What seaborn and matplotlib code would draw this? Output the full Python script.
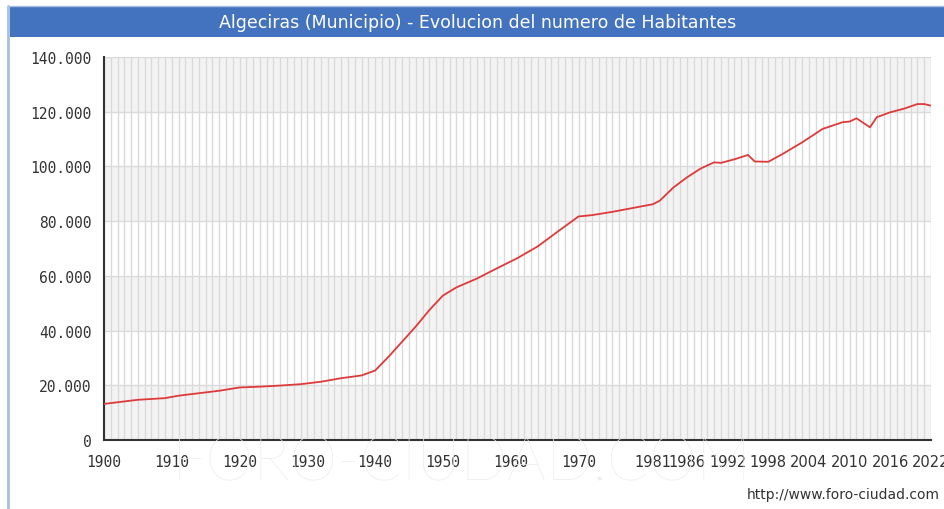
import numpy as np
import pandas as pd
import seaborn as sns
import matplotlib.pyplot as plt
from matplotlib.patches import Rectangle
from matplotlib.lines import Line2D
from matplotlib.ticker import FuncFormatter, MultipleLocator

# population
years = [1900, 1905, 1909, 1911, 1914, 1917, 1920, 1923, 1926, 1929, 1932, 1935, 1938,
         1940, 1942, 1944, 1946, 1948, 1950, 1952, 1955, 1958, 1961, 1964, 1967,
         1970, 1972, 1975, 1978, 1981, 1982, 1984, 1986, 1988, 1990, 1991, 1993,
         1995, 1996, 1998, 2000, 2003, 2006, 2009, 2010, 2011, 2013, 2014, 2016,
         2018, 2020, 2021, 2022]
habitantes = [13200, 14700, 15300, 16200, 17100, 18000, 19200, 19500, 19900, 20400, 21300, 22600, 23600,
              25400, 30500, 36000, 41500, 47500, 52800, 55800, 59000, 62800, 66500, 70800, 76300,
              81700, 82200, 83400, 84800, 86200, 87500, 92300, 96000, 99200, 101500, 101300, 102600,
              104200, 101800, 101700, 104400, 108800, 113700, 116200, 116400, 117600, 114300, 118000, 119800,
              121100, 122800, 122800, 122200]

tick_years = [1900, 1910, 1920, 1930, 1940, 1950, 1960, 1970,
              1981, 1986, 1992, 1998, 2004, 2010, 2016, 2022]
y_ticks = [0, 20000, 40000, 60000, 80000, 100000, 120000, 140000]

titulo = "Algeciras (Municipio) - Evolucion del numero de Habitantes"
fuente = "http://www.foro-ciudad.com"

df = pd.DataFrame({"year": years, "hab": habitantes})

sns.set_theme(style="white")
plt.rcParams['font.family'] = ['DejaVu Sans']

W, H = 945, 510
fig = plt.figure(figsize=(W / 100, H / 100), dpi=100)
fig.patch.set_facecolor("white")

# header bar + frame
fig.patches.append(Rectangle((10 / W, 1 - 38 / H), 1, 30 / H, transform=fig.transFigure,
                             facecolor="#4372bf", edgecolor="none", zorder=1))
fig.add_artist(Line2D([8 / W, 8 / W], [0, 1 - 7 / H], color="#a7bfe3", lw=2))
fig.add_artist(Line2D([8 / W, 1], [1 - 7 / H, 1 - 7 / H], color="#a7bfe3", lw=1))
fig.text(478 / W, 1 - 23 / H, titulo, color="white", ha="center", va="center", fontsize=12.5)

# watermark
fig.text(462 / W, 1 - 464 / H, "FORO-CIUDAD.COM", color="#ebebf2", ha="center", va="center",
         fontsize=44, family="Lato", fontweight="light", zorder=0)

ax = fig.add_axes([104 / W, 1 - 441 / H, (931 - 104) / W, (441 - 58) / H])
ax.patch.set_alpha(0)

for lo in [0, 40000, 80000, 120000]:
    ax.axhspan(lo, lo + 20000, color="#f3f3f3", zorder=0, lw=0)

sns.lineplot(data=df, x="year", y="hab", ax=ax, color="#de3a3a", lw=1.3, zorder=3)

ax.set_xlim(1900, 2022)
ax.set_ylim(0, 140000)
ax.set_xlabel("")
ax.set_ylabel("")

ax.set_xticks(tick_years)
ax.set_xticks(range(1900, 2023), minor=True)
ax.set_yticks(y_ticks)
ax.yaxis.set_minor_locator(MultipleLocator(10000))
ax.yaxis.set_major_formatter(FuncFormatter(lambda v, p: f"{int(v):,}".replace(",", ".")))

ax.set_axisbelow(True)
ax.xaxis.grid(True, which="both", color="#dadada", lw=1)
ax.yaxis.grid(True, which="major", color="#dadada", lw=1)

for s in ["top", "right"]:
    ax.spines[s].set_visible(False)
for s in ["left", "bottom"]:
    ax.spines[s].set_color("#333333")
    ax.spines[s].set_linewidth(1.5)

ax.tick_params(axis="both", which="both", direction="in", length=5, width=1, color="#333333")
ax.tick_params(axis="x", which="major", pad=10)
ax.tick_params(axis="y", which="major", pad=9)

for lbl in ax.get_yticklabels():
    lbl.set_family("DejaVu Sans Mono")
    lbl.set_fontsize(10.5)
    lbl.set_color("#333333")
for lbl, yr in zip(ax.get_xticklabels(), tick_years):
    lbl.set_fontsize(10.5)
    lbl.set_color("#333333")
    lbl.set_family("DejaVu Sans Mono" if yr <= 1970 else "DejaVu Sans")
    lbl.set_clip_on(False)

fig.text(940 / W, 1 - 495 / H, fuente, ha="right", va="center", fontsize=10, color="#333333")

fig.savefig("out.png", dpi=100)
